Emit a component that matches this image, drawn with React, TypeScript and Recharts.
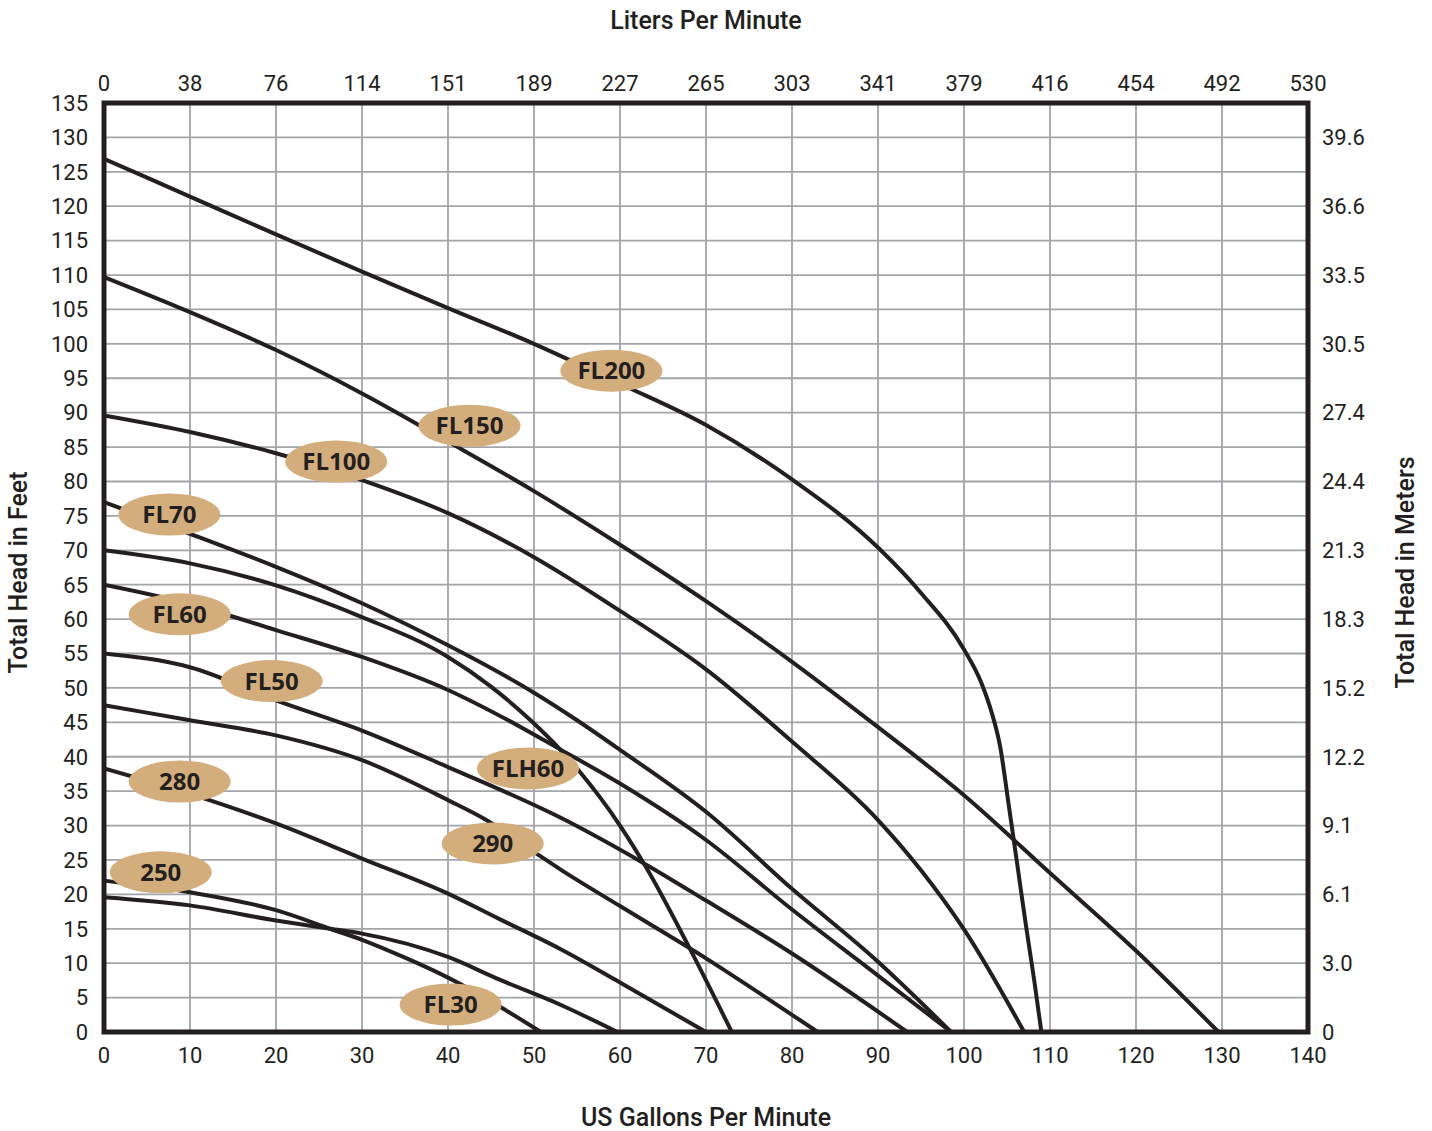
import { ComposedChart, Line, Scatter, XAxis, YAxis, CartesianGrid, ReferenceArea } from "recharts"

const INK = "#231f20"
const TAN = "#d3ae7c"
const GRID = "#a2a4a7"

// axes
const GPM_TICKS = [0, 10, 20, 30, 40, 50, 60, 70, 80, 90, 100, 110, 120, 130, 140]
const LPM_LABELS = ["0", "38", "76", "114", "151", "189", "227", "265", "303", "341", "379", "416", "454", "492", "530"]
const FT_TICKS = [0, 5, 10, 15, 20, 25, 30, 35, 40, 45, 50, 55, 60, 65, 70, 75, 80, 85, 90, 95, 100, 105, 110, 115, 120, 125, 130, 135]
const METER_TICKS = [0, 10, 20, 30, 40, 50, 60, 70, 80, 90, 100, 110, 120, 130]
const METER_LABELS = ["0", "3.0", "6.1", "9.1", "12.2", "15.2", "18.3", "21.3", "24.4", "27.4", "30.5", "33.5", "36.6", "39.6"]

// pump curves, [gpm, feet of head]
const FL200 = [[0, 126.9], [10, 121.4], [20, 115.9], [30, 110.5], [40, 105.2], [50, 100.0], [60, 94.2], [70, 88.2], [80, 80.3], [90, 70.4], [95, 63.8], [100, 55.6], [102, 50.8], [103.2, 46.5], [104.2, 41.5], [105.2, 33], [106.2, 24.3], [107.2, 15.5], [108.2, 7.2], [109, 0]]
const FL150 = [[0, 109.7], [10, 104.6], [20, 99.1], [30, 92.8], [40, 85.8], [50, 78.6], [60, 70.8], [70, 62.6], [80, 53.8], [90, 44.3], [100, 34.4], [110, 23.1], [120, 11.8], [129.6, 0]]
const FL100 = [[0, 89.6], [10, 87.2], [20, 84.1], [30, 80.2], [40, 75.4], [50, 69.0], [60, 61.2], [70, 52.7], [80, 42.2], [90, 30.8], [95, 23.5], [100, 14.9], [107, 0]]
const FL70 = [[0, 77], [10, 72.4], [20, 67.6], [30, 62.3], [40, 56.2], [46, 52.2], [50, 49.3], [55, 45.3], [60, 41], [70, 32], [80, 20.8], [90, 10.2], [98.5, 0]]
const FLH60 = [[0, 70], [10, 68.1], [20, 64.9], [30, 60.3], [40, 54.5], [45, 50.2], [49.6, 45.3], [53, 41.1], [55.2, 38], [60, 30], [63, 24], [68, 12.4], [73, 0]]
const FL60 = [[0, 65], [10, 62.2], [20, 58.4], [30, 54.5], [40, 49.7], [47, 45.3], [53, 41.1], [60, 36.1], [70, 27.9], [80, 17.8], [90, 8.2], [98.5, 0]]
const FL50 = [[0, 55], [10, 53], [20, 48.2], [30, 43.8], [40, 38.5], [53, 31.2], [62.8, 24.5], [70, 19.1], [80, 11.4], [93.4, 0]]
const M290 = [[0, 47.5], [10, 45.3], [20, 43.1], [30, 39.5], [40, 33.7], [44.2, 31], [50.2, 26], [53.1, 23.6], [60, 18.3], [70, 10.7], [80, 2.5], [83, 0]]
const M280 = [[0, 38.3], [10, 34.6], [20, 30.3], [30, 25.2], [40, 20.1], [46, 16.4], [53, 12.1], [60, 7.2], [70, 0]]
const M250 = [[0, 22], [10, 20.3], [20, 17.7], [26.3, 15], [30, 13.4], [35, 10.8], [40, 7.9], [46, 3.7], [50.8, 0]]
const FL30 = [[0, 19.6], [10, 18.4], [20, 16.2], [26.3, 15], [30, 14.3], [40, 10.9], [46, 7.6], [53, 4], [59.7, 0]]

const CURVES = [FL200, FL150, FL100, FL70, FLH60, FL60, FL50, M290, M280, M250, FL30]

// tan tags sitting on the curves
const TAGS = [
  { name: "FL200", gpm: 59, ft: 96.1 },
  { name: "FL150", gpm: 42.5, ft: 88.1 },
  { name: "FL100", gpm: 27, ft: 82.9 },
  { name: "FL70", gpm: 7.6, ft: 75.2 },
  { name: "FL60", gpm: 8.8, ft: 60.7 },
  { name: "FL50", gpm: 19.5, ft: 51 },
  { name: "FLH60", gpm: 49.3, ft: 38.3 },
  { name: "290", gpm: 45.2, ft: 27.4 },
  { name: "280", gpm: 8.8, ft: 36.4 },
  { name: "250", gpm: 6.6, ft: 23.2 },
  { name: "FL30", gpm: 40.3, ft: 4 },
]

const toPoints = (pairs: number[][]) => pairs.map(([gpm, ft]) => ({ gpm, ft }))
// chart-level rows so the liters axis has something to scale against
const TICK_ROWS = GPM_TICKS.map((gpm) => ({ gpm }))

const tickStyle = { fill: INK, fontSize: 22, fontFamily: "Roboto, sans-serif" }
const titleStyle = { fill: INK, fontSize: 25, fontWeight: 500, fontFamily: "Roboto, sans-serif" }

function Tag(props: any) {
  const { cx, cy, payload } = props
  return (
    <g>
      <ellipse cx={cx} cy={cy} rx={51} ry={21} fill={TAN} />
      <text x={cx} y={cy} dy="0.36em" textAnchor="middle" fontFamily="'Open Sans', sans-serif" fontWeight={700} fontSize={24} fill={INK}>
        {payload.name}
      </text>
    </g>
  )
}

function axisTitle(text: string, side: "top" | "bottom" | "left" | "right") {
  return (props: any) => {
    const { x, y, width, height } = props.viewBox
    if (side === "top") {
      return <text x={x + width / 2} y={y + 29} textAnchor="middle" style={titleStyle}>{text}</text>
    }
    if (side === "bottom") {
      return <text x={x + width / 2} y={y + height - 5} textAnchor="middle" style={titleStyle}>{text}</text>
    }
    const cx = side === "left" ? x + 18 : x + 97
    const cy = y + height / 2 + 5
    return (
      <text x={cx} y={cy} dy="0.36em" textAnchor="middle" transform={`rotate(-90, ${cx}, ${cy})`} style={titleStyle}>
        {text}
      </text>
    )
  }
}

export default function App() {
  return (
    <div style={{ position: "absolute", left: 0, top: 0, background: "#fff" }}>
      <ComposedChart width={1432} height={1131} data={TICK_ROWS} margin={{ top: 0, right: 0, bottom: 0, left: 0 }}>
        <CartesianGrid xAxisId="gpm" yAxisId="ft" stroke={GRID} strokeWidth={1.8} />
        <XAxis
          xAxisId="gpm"
          dataKey="gpm"
          type="number"
          domain={[0, 140]}
          ticks={GPM_TICKS}
          interval={0}
          allowDataOverflow
          height={99}
          axisLine={false}
          tickLine={false}
          tickSize={0}
          tickMargin={15}
          tick={tickStyle}
          label={{ content: axisTitle("US Gallons Per Minute", "bottom") }}
        />
        <XAxis
          xAxisId="lpm"
          dataKey="gpm"
          orientation="top"
          type="number"
          domain={[0, 140]}
          ticks={GPM_TICKS}
          interval={0}
          allowDataOverflow
          height={103}
          axisLine={false}
          tickLine={false}
          tickSize={0}
          tickMargin={12}
          tick={tickStyle}
          tickFormatter={(v: number) => LPM_LABELS[GPM_TICKS.indexOf(v)]}
          label={{ content: axisTitle("Liters Per Minute", "top") }}
        />
        <YAxis
          yAxisId="ft"
          dataKey="ft"
          type="number"
          domain={[0, 135]}
          ticks={FT_TICKS}
          interval={0}
          allowDataOverflow
          width={104}
          axisLine={false}
          tickLine={false}
          tickSize={0}
          tickMargin={16}
          tick={tickStyle}
          label={{ content: axisTitle("Total Head in Feet", "left") }}
        />
        <YAxis
          yAxisId="m"
          orientation="right"
          type="number"
          domain={[0, 135]}
          ticks={METER_TICKS}
          interval={0}
          allowDataOverflow
          width={124}
          axisLine={false}
          tickLine={false}
          tickSize={0}
          tickMargin={14}
          tick={tickStyle}
          tickFormatter={(v: number) => METER_LABELS[METER_TICKS.indexOf(v)]}
          label={{ content: axisTitle("Total Head in Meters", "right") }}
        />
        {CURVES.map((c, i) => (
          <Line
            key={i}
            xAxisId="gpm"
            yAxisId="ft"
            data={toPoints(c)}
            dataKey="ft"
            type="monotone"
            stroke={INK}
            strokeWidth={4}
            dot={false}
            activeDot={false}
            isAnimationActive={false}
          />
        ))}
        <ReferenceArea xAxisId="gpm" yAxisId="ft" x1={0} x2={140} y1={0} y2={135} fill="none" stroke={INK} strokeWidth={5} ifOverflow="visible" />
        <Scatter xAxisId="gpm" yAxisId="ft" data={TAGS} dataKey="ft" shape={Tag} isAnimationActive={false} />
      </ComposedChart>
    </div>
  )
}
